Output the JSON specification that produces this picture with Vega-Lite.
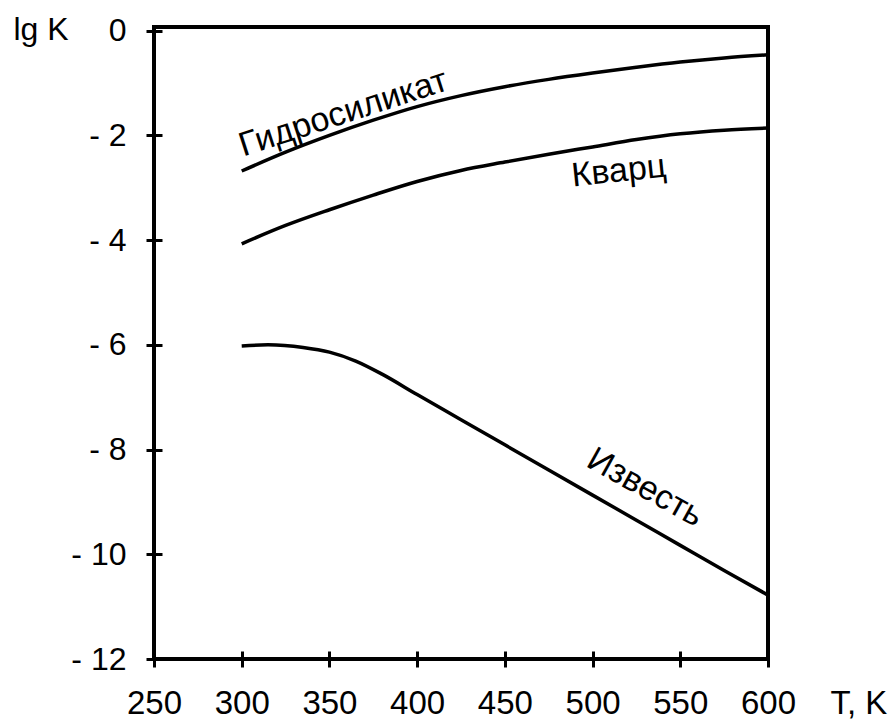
{
  "$schema": "https://vega.github.io/schema/vega-lite/v6.json",
  "width": 614,
  "height": 632,
  "autosize": {"type": "none"},
  "padding": {"left": 154, "top": 27, "right": 122, "bottom": 60},
  "background": "white",
  "view": {"stroke": "black", "strokeWidth": 4},
  "config": {
    "font": "Liberation Sans",
    "axis": {"grid": false, "domain": false, "tickColor": "black", "tickWidth": 3, "tickSize": 16, "labelColor": "black", "titleColor": "black", "labelFont": "Liberation Sans", "titleFont": "Liberation Sans", "titleFontWeight": "normal"}
  },
  "datasets": {
    "curves": [
      {"name": "Гидросиликат", "T": 300, "lgK": -2.68},
      {"name": "Гидросиликат", "T": 325, "lgK": -2.32},
      {"name": "Гидросиликат", "T": 350, "lgK": -2.0},
      {"name": "Гидросиликат", "T": 375, "lgK": -1.71},
      {"name": "Гидросиликат", "T": 400, "lgK": -1.45},
      {"name": "Гидросиликат", "T": 425, "lgK": -1.24},
      {"name": "Гидросиликат", "T": 450, "lgK": -1.07},
      {"name": "Гидросиликат", "T": 475, "lgK": -0.93},
      {"name": "Гидросиликат", "T": 500, "lgK": -0.81},
      {"name": "Гидросиликат", "T": 525, "lgK": -0.7},
      {"name": "Гидросиликат", "T": 550, "lgK": -0.6},
      {"name": "Гидросиликат", "T": 575, "lgK": -0.52},
      {"name": "Гидросиликат", "T": 600, "lgK": -0.46},
      {"name": "Кварц", "T": 300, "lgK": -4.07},
      {"name": "Кварц", "T": 325, "lgK": -3.72},
      {"name": "Кварц", "T": 350, "lgK": -3.42},
      {"name": "Кварц", "T": 375, "lgK": -3.14},
      {"name": "Кварц", "T": 400, "lgK": -2.88},
      {"name": "Кварц", "T": 425, "lgK": -2.67},
      {"name": "Кварц", "T": 450, "lgK": -2.51},
      {"name": "Кварц", "T": 475, "lgK": -2.36},
      {"name": "Кварц", "T": 500, "lgK": -2.22},
      {"name": "Кварц", "T": 525, "lgK": -2.08},
      {"name": "Кварц", "T": 550, "lgK": -1.97},
      {"name": "Кварц", "T": 575, "lgK": -1.9},
      {"name": "Кварц", "T": 600, "lgK": -1.86},
      {"name": "Известь", "T": 300, "lgK": -6.02},
      {"name": "Известь", "T": 315, "lgK": -6.0},
      {"name": "Известь", "T": 335, "lgK": -6.05},
      {"name": "Известь", "T": 350, "lgK": -6.14},
      {"name": "Известь", "T": 365, "lgK": -6.31},
      {"name": "Известь", "T": 380, "lgK": -6.56},
      {"name": "Известь", "T": 400, "lgK": -6.95},
      {"name": "Известь", "T": 425, "lgK": -7.43},
      {"name": "Известь", "T": 450, "lgK": -7.91},
      {"name": "Известь", "T": 475, "lgK": -8.39},
      {"name": "Известь", "T": 500, "lgK": -8.87},
      {"name": "Известь", "T": 525, "lgK": -9.35},
      {"name": "Известь", "T": 550, "lgK": -9.83},
      {"name": "Известь", "T": 575, "lgK": -10.31},
      {"name": "Известь", "T": 600, "lgK": -10.78}
    ],
    "labels": [
      {"label": "Гидросиликат", "T": 358, "lgK": -1.58},
      {"label": "Кварц", "T": 515, "lgK": -2.69},
      {"label": "Известь", "T": 530, "lgK": -8.73}
    ]
  },
  "layer": [
    {
      "data": {"name": "curves"},
      "mark": {"type": "line", "color": "black", "strokeWidth": 3.5, "interpolate": "monotone", "clip": false},
      "encoding": {
        "x": {
          "field": "T", "type": "quantitative",
          "scale": {"domain": [250, 600], "nice": false, "zero": false},
          "axis": {
            "values": [250, 300, 350, 400, 450, 500, 550, 600],
            "offset": -8,
            "labelFontSize": 33,
            "labelBaseline": "alphabetic",
            "labelPadding": 46,
            "labelFlush": false,
            "labelOverlap": false,
            "title": "T, K",
            "titleFontSize": 33,
            "titleAngle": 0,
            "titleAlign": "left",
            "titleBaseline": "alphabetic",
            "titleX": 676,
            "titleY": 62
          }
        },
        "y": {
          "field": "lgK", "type": "quantitative",
          "scale": {"domain": [-12, 0.07], "nice": false, "zero": false},
          "axis": {
            "values": [0, -2, -4, -6, -8, -10, -12],
            "offset": -8,
            "labelFontSize": 32,
            "labelPadding": 20,
            "labelFlush": false,
            "labelOverlap": false,
            "labelExpr": "datum.value == 0 ? '0' : '- ' + format(abs(datum.value), 'd')",
            "title": "lg K",
            "titleFontSize": 32,
            "titleAngle": 0,
            "titleAlign": "left",
            "titleBaseline": "alphabetic",
            "titleX": -149,
            "titleY": 12
          }
        },
        "detail": {"field": "name", "type": "nominal"}
      }
    },
    {
      "data": {"name": "labels"},
      "transform": [{"filter": "datum.label == 'Гидросиликат'"}],
      "mark": {"type": "text", "fontSize": 34, "angle": 342, "align": "center", "baseline": "middle", "color": "black", "font": "Liberation Sans"},
      "encoding": {
        "x": {"field": "T", "type": "quantitative"},
        "y": {"field": "lgK", "type": "quantitative"},
        "text": {"field": "label"}
      }
    },
    {
      "data": {"name": "labels"},
      "transform": [{"filter": "datum.label == 'Кварц'"}],
      "mark": {"type": "text", "fontSize": 34, "angle": 354, "align": "center", "baseline": "middle", "color": "black", "font": "Liberation Sans"},
      "encoding": {
        "x": {"field": "T", "type": "quantitative"},
        "y": {"field": "lgK", "type": "quantitative"},
        "text": {"field": "label"}
      }
    },
    {
      "data": {"name": "labels"},
      "transform": [{"filter": "datum.label == 'Известь'"}],
      "mark": {"type": "text", "fontSize": 34, "angle": 29, "align": "center", "baseline": "middle", "color": "black", "font": "Liberation Sans"},
      "encoding": {
        "x": {"field": "T", "type": "quantitative"},
        "y": {"field": "lgK", "type": "quantitative"},
        "text": {"field": "label"}
      }
    }
  ]
}
